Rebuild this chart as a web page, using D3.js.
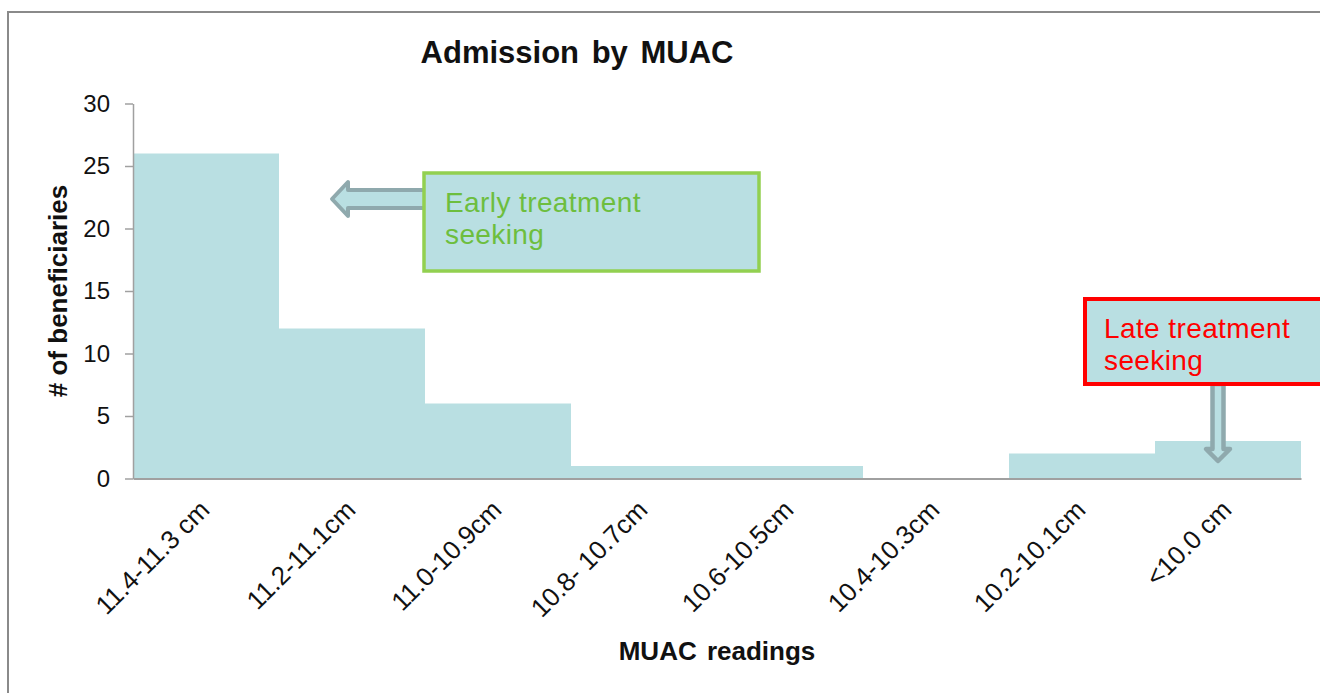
<!DOCTYPE html>
<html>
<head>
<meta charset="utf-8">
<script src="https://cdn.jsdelivr.net/npm/d3@7"></script>
<style>
  html, body { margin: 0; padding: 0; background: #fff; overflow: hidden; }
  text { font-family: 'Liberation Sans', Arial, sans-serif; }
</style>
</head>
<body>
<svg id="chart" width="1320" height="693"></svg>
<script>
// MUAC admission counts per reading band
const categories = ["11.4-11.3 cm", "11.2-11.1cm", "11.0-10.9cm", "10.8- 10.7cm",
                    "10.6-10.5cm", "10.4-10.3cm", "10.2-10.1cm", "<10.0 cm"];
const admissions = [26, 12, 6, 1, 1, 0, 2, 3];
const yTicks = [0, 5, 10, 15, 20, 25, 30];
const chartTitle = "Admission by MUAC";
const xTitle = "MUAC readings";
const yTitle = "# of beneficiaries";
const earlyNote = ["Early treatment", "seeking"];
const lateNote = ["Late treatment", "seeking"];

const svg = d3.select("#chart");
const barFill = "#B9DFE2";
const axisColor = "#A0A0A0";
const arrowStroke = "#8FA9AD";

// outer chart frame
svg.append("rect")
  .attr("x", 8).attr("y", 12).attr("width", 1400).attr("height", 800)
  .attr("fill", "#fff").attr("stroke", "#8a8a8a").attr("stroke-width", 2);

const plot = { left: 133, right: 1301, top: 103.5, bottom: 478.5 };

const x = d3.scaleBand().domain(categories).range([plot.left, plot.right]).padding(0);
const y = d3.scaleLinear().domain([0, 30]).range([plot.bottom, plot.top]);

// bars
svg.append("g").selectAll("rect")
  .data(categories.map((c, i) => ({ c, v: admissions[i] })))
  .join("rect")
  .attr("x", d => x(d.c))
  .attr("y", d => y(d.v))
  .attr("width", x.bandwidth())
  .attr("height", d => y(0) - y(d.v))
  .attr("fill", barFill);

// y axis
const yAxis = svg.append("g")
  .attr("transform", `translate(${plot.left},0)`)
  .call(d3.axisLeft(y).tickValues(yTicks).tickSizeInner(8).tickSizeOuter(0).tickPadding(15));
yAxis.select(".domain").attr("stroke", axisColor).attr("stroke-width", 1.5);
yAxis.selectAll(".tick line").attr("stroke", axisColor).attr("stroke-width", 1.5);
yAxis.selectAll(".tick text")
  .attr("font-size", 24).attr("fill", "#111")
  .style("font-family", "'Liberation Sans', Arial, sans-serif");

// x axis
const xAxis = svg.append("g")
  .attr("transform", `translate(0,${plot.bottom})`)
  .call(d3.axisBottom(x).tickSize(0).tickSizeOuter(0).tickFormat(""));
xAxis.select(".domain").attr("stroke", axisColor).attr("stroke-width", 2);

// rotated category labels
svg.append("g").selectAll("text")
  .data(categories)
  .join("text")
  .attr("transform", d => `translate(${x(d) + x.bandwidth() / 2 + 5},${plot.bottom + 33}) rotate(-45)`)
  .attr("text-anchor", "end")
  .attr("font-size", 26)
  .attr("fill", "#111")
  .text(d => d);

// titles
svg.append("text")
  .attr("x", 577).attr("y", 63)
  .attr("text-anchor", "middle")
  .attr("font-size", 31).attr("font-weight", "bold").attr("fill", "#111")
  .attr("word-spacing", 4)
  .text(chartTitle);

svg.append("text")
  .attr("x", 717).attr("y", 660)
  .attr("text-anchor", "middle")
  .attr("font-size", 26).attr("font-weight", "bold").attr("fill", "#111")
  .attr("word-spacing", 3)
  .text(xTitle);

svg.append("text")
  .attr("transform", `translate(67,${(plot.top + plot.bottom) / 2}) rotate(-90)`)
  .attr("text-anchor", "middle")
  .attr("font-size", 26).attr("font-weight", "bold").attr("fill", "#111")
  .text(yTitle);

// block arrow pointing left, toward the early bands
const leftArrow = [[332, 199], [348, 182], [348, 190], [426, 190], [426, 208], [348, 208], [348, 216]];
svg.append("path")
  .attr("d", d3.line()(leftArrow) + "Z")
  .attr("fill", barFill).attr("stroke", arrowStroke)
  .attr("stroke-width", 4).attr("stroke-linejoin", "round");

// block arrow pointing down, toward the lowest band
const downArrow = [[1212.5, 384], [1223.5, 384], [1223.5, 449], [1230, 449], [1218, 461], [1206, 449], [1212.5, 449]];
svg.append("path")
  .attr("d", d3.line()(downArrow) + "Z")
  .attr("fill", barFill).attr("stroke", arrowStroke)
  .attr("stroke-width", 4.5).attr("stroke-linejoin", "round");

// annotation callouts
function callout(box, stroke, strokeW, color, lines, tx, ty) {
  svg.append("rect")
    .attr("x", box[0]).attr("y", box[1]).attr("width", box[2]).attr("height", box[3])
    .attr("fill", barFill).attr("stroke", stroke).attr("stroke-width", strokeW);
  const t = svg.append("text").attr("font-size", 28).attr("fill", color)
    .attr("letter-spacing", 0.4);
  lines.forEach((l, i) => {
    t.append("tspan").attr("x", tx).attr("y", ty + i * 32).text(l);
  });
}
callout([424, 173, 335, 98], "#92D050", 3.5, "#6DBE3E", earlyNote, 445, 212);
callout([1085, 299, 300, 85], "#FF0000", 4, "#FF0000", lateNote, 1104, 338);
</script>
</body>
</html>
